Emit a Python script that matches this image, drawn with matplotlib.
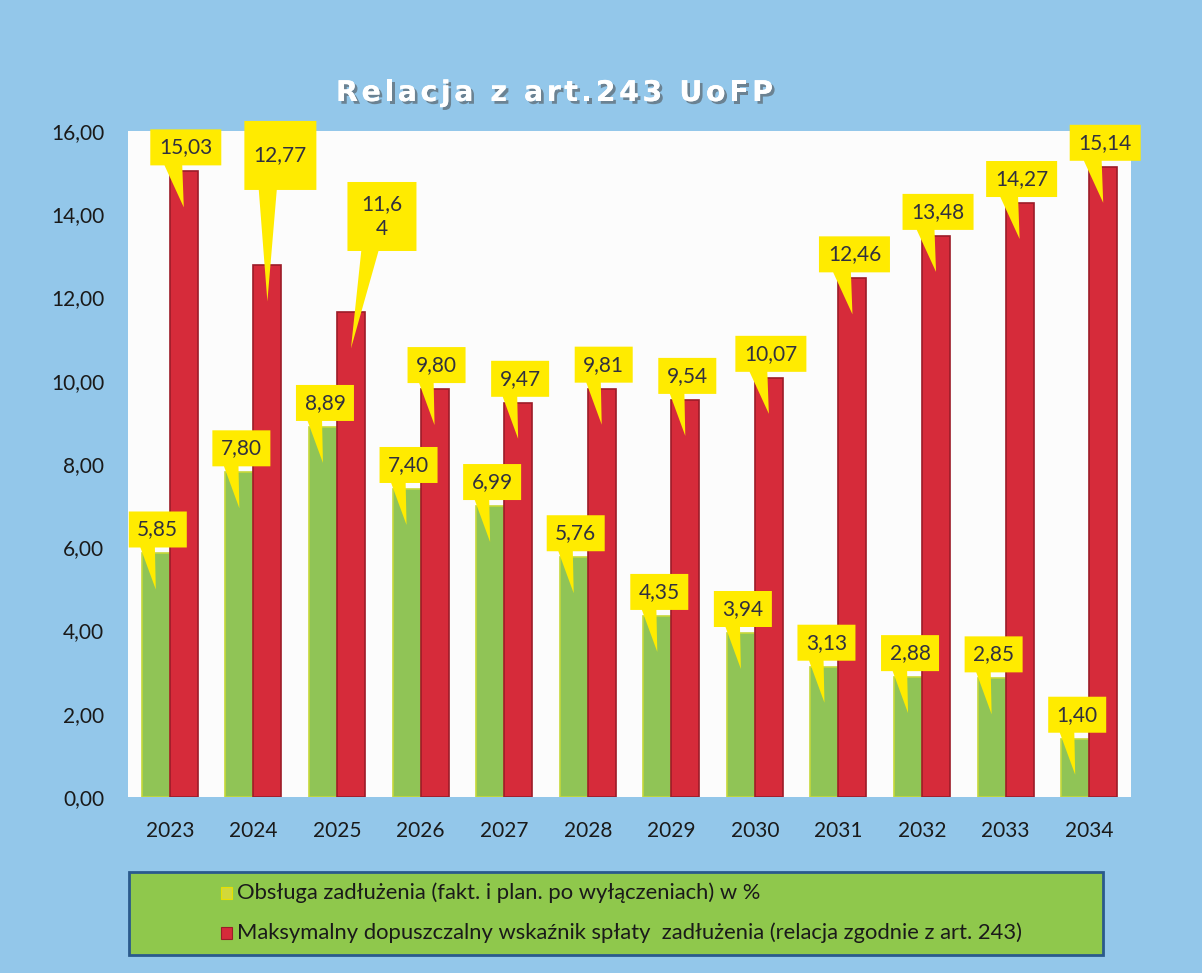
import matplotlib
matplotlib.use('Agg')
import matplotlib.pyplot as plt
import numpy as np
from matplotlib.patches import Rectangle, Polygon
from matplotlib import transforms as mtransforms
from matplotlib import patheffects as pe
from matplotlib.ticker import FuncFormatter

# ---------------- data ----------------
years = ['2023', '2024', '2025', '2026', '2027', '2028',
         '2029', '2030', '2031', '2032', '2033', '2034']
debt_service = [5.85, 7.80, 8.89, 7.40, 6.99, 5.76, 4.35, 3.94, 3.13, 2.88, 2.85, 1.40]
max_ratio = [15.03, 12.77, 11.64, 9.80, 9.47, 9.81, 9.54, 10.07, 12.46, 13.48, 14.27, 15.14]
series_names = ['Obsługa zadłużenia (fakt. i plan. po wyłączeniach) w %',
                'Maksymalny dopuszczalny wskaźnik spłaty  zadłużenia (relacja zgodnie z art. 243)']
y_ticks = [0, 2, 4, 6, 8, 10, 12, 14, 16]
title = 'Relacja z art.243 UoFP'

# ---------------- style ----------------
BG = '#93C7EA'
GREEN = '#90C456'
GREEN_EDGE = '#C6D83A'
RED = '#D62B3A'
RED_EDGE = '#9C1C28'
YELLOW = '#FFEB00'
LABEL_C = '#30303F'
LEG_FILL = '#8FC84C'
LEG_EDGE = '#2A5A8C'
FONT = 'Lato'

W, H = 1202, 973
fig = plt.figure(figsize=(W / 100, H / 100), dpi=100)
fig.patch.set_facecolor(BG)

ax = fig.add_axes([128 / W, (H - 797) / H, 1003 / W, 666 / H])
ax.set_facecolor('#FCFCFC')

x = np.arange(len(years))
bw = 0.335
ax.bar(x - bw / 2, debt_service, bw, color=GREEN, edgecolor=GREEN_EDGE, linewidth=1.2, zorder=2)
ax.bar(x + bw / 2, max_ratio, bw, color=RED, edgecolor=RED_EDGE, linewidth=1.2, zorder=2)

ax.set_xlim(-0.5, len(years) - 0.5)
ax.set_ylim(y_ticks[0], y_ticks[-1])
ax.set_yticks(y_ticks)
ax.yaxis.set_major_formatter(FuncFormatter(lambda v, p: f'{v:.2f}'.replace('.', ',')))
ax.set_xticks(x)
ax.set_xticklabels(years)
for s in ax.spines.values():
    s.set_visible(False)
ax.tick_params(axis='y', length=0, pad=17, labelsize=15, labelcolor='#1A1A1A')
ax.tick_params(axis='x', length=0, pad=17, labelsize=15, labelcolor='#1A1A1A')
for lab in ax.get_xticklabels() + ax.get_yticklabels():
    lab.set_fontfamily(FONT)

# ---------------- callouts ----------------
pxt = mtransforms.Affine2D().scale(1 / 100) + fig.dpi_scale_trans


def fmt(v):
    return f'{v:.2f}'.replace('.', ',')


def callout(xc, v, text, dx=2, dy=24, w=None, h=36):
    first = text.split('\n')[0]
    if w is None:
        w = 13 * len(first) + 6
    trans = pxt + mtransforms.ScaledTranslation(xc, v, ax.transData)
    cy_b = dy - h / 2
    verts = [(dx - w / 2, cy_b), (dx - 0.3 * w, cy_b), (0, -36), (dx - 0.05 * w, cy_b),
             (dx + w / 2, cy_b), (dx + w / 2, dy + h / 2), (dx - w / 2, dy + h / 2)]
    ax.add_patch(Polygon(verts, closed=True, transform=trans, facecolor=YELLOW,
                         edgecolor='none', zorder=5, clip_on=False))
    ax.text(dx, dy, text, transform=trans, ha='center', va='center', fontsize=15,
            color=LABEL_C, family=FONT, linespacing=1.35, zorder=6, clip_on=False)


special = {1: dict(dx=13, dy=110, w=72, h=69), 2: dict(dx=31, dy=96, w=69, h=69)}
for i, v in enumerate(debt_service):
    callout(x[i] - bw / 2, v, fmt(v))
for i, v in enumerate(max_ratio):
    t = fmt(v)
    if i == 2:
        t = t[:-1] + '\n' + t[-1]
    callout(x[i] + bw / 2, v, t, **special.get(i, {}))

# ---------------- title (letter-spaced) ----------------
renderer = fig.canvas.get_renderer()
tkw = dict(fontsize=20.5, fontweight='bold', family='DejaVu Sans')


def text_width(s):
    t = fig.text(0, 0, s, **tkw)
    wd = t.get_window_extent(renderer).width
    t.remove()
    return wd


bar_w = text_width('|')
natural = text_width(title)
x0_px, x1_px = 336, 773
spacing = (x1_px - x0_px - natural) / (len(title) - 1)
shadow = [pe.withSimplePatchShadow(offset=(2, -2), shadow_rgbFace='#4A4A4A', alpha=0.55), pe.Normal()]
for i, ch in enumerate(title):
    if ch == ' ':
        continue
    pref = text_width(title[:i] + '|') - bar_w if i > 0 else 0
    xp = x0_px + pref + i * spacing
    fig.text(xp / W, 1 - 101 / H, ch, ha='left', va='baseline', color='white',
             path_effects=shadow, **tkw)

# ---------------- legend ----------------
fig.add_artist(Rectangle((129 / W, (H - 955) / H), (1103 - 129) / W, (955 - 872) / H,
                         transform=fig.transFigure, facecolor=LEG_FILL, edgecolor=LEG_EDGE,
                         linewidth=2, zorder=1))
leg_colors = [('#D2D83A', '#E8E000'), (RED, RED_EDGE)]
for k, (name, (fc, ec)) in enumerate(zip(series_names, leg_colors)):
    yc = 893 + 40 * k
    fig.add_artist(Rectangle((221 / W, (H - yc - 6) / H), 11 / W, 12 / H,
                             transform=fig.transFigure, facecolor=fc, edgecolor=ec,
                             linewidth=0.8, zorder=2))
    fig.text(237 / W, (H - yc) / H, name, ha='left', va='center', fontsize=15.8,
             color='#1A1A1A', family=FONT, zorder=3)

fig.savefig('out.png', dpi=100, facecolor=BG)
